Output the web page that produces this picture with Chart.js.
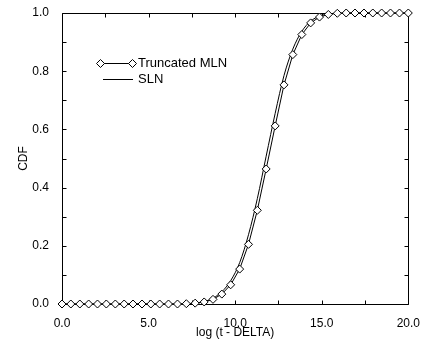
<!DOCTYPE html>
<html>
<head>
<meta charset="utf-8">
<script src="https://cdn.jsdelivr.net/npm/chart.js@4.4.1/dist/chart.umd.min.js"></script>
<style>
  html, body { margin: 0; padding: 0; background: #fff; }
  #box { width: 424px; height: 341px; }
</style>
</head>
<body>
<div id="box"><canvas id="cdfChart" width="424" height="341"></canvas></div>
<script>
// --- data ---
const logT = [0.00, 0.51, 1.03, 1.54, 2.05, 2.56, 3.08, 3.59, 4.10, 4.62,
              5.13, 5.64, 6.15, 6.67, 7.18, 7.69, 8.21, 8.72, 9.23, 9.74,
              10.26, 10.77, 11.28, 11.79, 12.31, 12.82, 13.33, 13.85, 14.36, 14.87,
              15.38, 15.90, 16.41, 16.92, 17.44, 17.95, 18.46, 18.97, 19.49, 20.00];

const mlnCdf = [0, 0, 0, 0, 0, 0, 0, 0, 0, 0,
                0, 0, 0, 0, 0.001, 0.003, 0.007, 0.016, 0.034, 0.066,
                0.120, 0.205, 0.322, 0.464, 0.612, 0.753, 0.857, 0.926, 0.966, 0.986,
                0.995, 0.999, 1, 1, 1, 1, 1, 1, 1, 1];

const slnCdf = [0, 0, 0, 0, 0, 0, 0, 0, 0, 0,
                0, 0, 0, 0, 0.001, 0.003, 0.008, 0.020, 0.042, 0.080,
                0.142, 0.238, 0.362, 0.508, 0.655, 0.785, 0.876, 0.937, 0.972, 0.989,
                0.997, 0.999, 1, 1, 1, 1, 1, 1, 1, 1];

const seriesNames = ["Truncated MLN", "SLN"];
const xTickLabels = ["0.0", "5.0", "10.0", "15.0", "20.0"];
const yTickLabels = ["0.0", "0.2", "0.4", "0.6", "0.8", "1.0"];
const xMinorTicks = [0, 2.5, 5, 7.5, 10, 12.5, 15, 17.5, 20];
const yMinorTicks = [0, 0.1, 0.2, 0.3, 0.4, 0.5, 0.6, 0.7, 0.8, 0.9, 1];

const FONT = "'Liberation Sans', Arial, sans-serif";

// 좌표축 박스 + 안쪽 눈금
const frameTicks = {
  id: "frameTicks",
  beforeDatasetsDraw(chart) {
    const { ctx, chartArea: a, scales: { x, y } } = chart;
    const L = Math.round(a.left) + 0.5, R = Math.round(a.right) + 0.5;
    const T = Math.round(a.top) + 0.5, B = Math.round(a.bottom) + 0.5;
    const len = 4;
    ctx.save();
    ctx.strokeStyle = "#000";
    ctx.lineWidth = 1;
    ctx.beginPath();
    ctx.rect(L, T, R - L, B - T);
    xMinorTicks.forEach(v => {
      const px = Math.round(x.getPixelForValue(v)) + 0.5;
      ctx.moveTo(px, B); ctx.lineTo(px, B - len);
      ctx.moveTo(px, T); ctx.lineTo(px, T + len);
    });
    yMinorTicks.forEach(v => {
      const py = Math.round(y.getPixelForValue(v)) + 0.5;
      ctx.moveTo(L, py); ctx.lineTo(L + len, py);
      ctx.moveTo(R, py); ctx.lineTo(R - len, py);
    });
    ctx.stroke();
    ctx.restore();
  }
};

// 차트 안쪽 범례
const insideLegend = {
  id: "insideLegend",
  afterDraw(chart) {
    const { ctx } = chart;
    const diamond = (cx, cy, r) => {
      ctx.beginPath();
      ctx.moveTo(cx - r, cy); ctx.lineTo(cx, cy - r);
      ctx.lineTo(cx + r, cy); ctx.lineTo(cx, cy + r);
      ctx.closePath();
      ctx.fillStyle = "#fff";
      ctx.fill();
      ctx.stroke();
    };
    ctx.save();
    ctx.strokeStyle = "#000";
    ctx.lineWidth = 1;
    // row 1
    ctx.beginPath();
    ctx.moveTo(100, 63.5); ctx.lineTo(133, 63.5);
    ctx.stroke();
    diamond(100.5, 63.5, 4);
    diamond(132.5, 63.5, 4);
    // row 2
    ctx.beginPath();
    ctx.moveTo(103, 79.5); ctx.lineTo(133, 79.5);
    ctx.stroke();
    ctx.fillStyle = "#000";
    ctx.font = "13px " + FONT;
    ctx.textBaseline = "middle";
    ctx.fillText(seriesNames[0], 138, 63.5);
    ctx.fillText(seriesNames[1], 138, 79.5);
    ctx.restore();
  }
};

new Chart(document.getElementById("cdfChart"), {
  type: "line",
  data: {
    datasets: [
      {
        label: seriesNames[0],
        data: logT.map((t, i) => ({ x: t, y: mlnCdf[i] })),
        borderColor: "#000",
        borderWidth: 1,
        pointStyle: "rectRot",
        pointRadius: 4,
        pointBackgroundColor: "#fff",
        pointBorderColor: "#000",
        pointBorderWidth: 1,
        tension: 0,
        clip: false
      },
      {
        label: seriesNames[1],
        data: logT.map((t, i) => ({ x: t, y: slnCdf[i] })),
        borderColor: "#000",
        borderWidth: 1,
        pointRadius: 0,
        cubicInterpolationMode: "monotone",
        clip: false
      }
    ]
  },
  options: {
    responsive: false,
    animation: false,
    devicePixelRatio: 1,
    layout: { padding: { top: 13, right: 14, left: 0, bottom: 0 } },
    plugins: {
      legend: { display: false },
      tooltip: { enabled: false }
    },
    scales: {
      x: {
        type: "linear",
        min: 0,
        max: 20,
        grid: { display: false },
        border: { display: false },
        ticks: {
          stepSize: 5,
          padding: 4,
          maxRotation: 0,
          color: "#000",
          font: { family: FONT, size: 12 },
          callback: v => xTickLabels[Math.round(v / 5)]
        },
        title: {
          display: true,
          text: "log (t - DELTA)",
          color: "#000",
          font: { family: FONT, size: 12 },
          padding: { top: 0, bottom: 1 }
        },
        afterFit(s) { s.height = 37; }
      },
      y: {
        min: 0,
        max: 1,
        grid: { display: false },
        border: { display: false },
        ticks: {
          stepSize: 0.2,
          padding: 5,
          color: "#000",
          font: { family: FONT, size: 12 },
          callback: v => yTickLabels[Math.round(v / 0.2)]
        },
        title: {
          display: true,
          text: "CDF",
          color: "#000",
          font: { family: FONT, size: 12 },
          padding: { top: 16, bottom: 0 }
        },
        afterFit(s) { s.width = 62; }
      }
    }
  },
  plugins: [frameTicks, insideLegend]
});
</script>
</body>
</html>
